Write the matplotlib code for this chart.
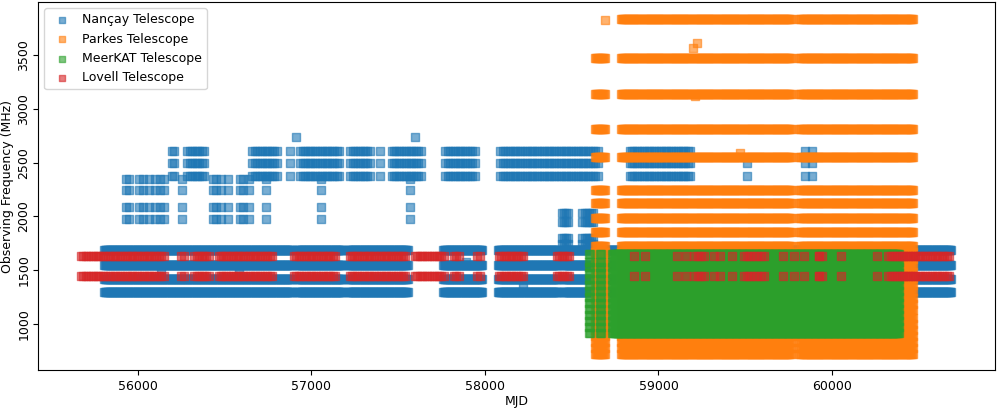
import numpy as np
import matplotlib
matplotlib.use("Agg")
import matplotlib.pyplot as plt

# ---------------- data ----------------
# Nançay: main L-band channels (MHz) and observing spans (MJD start, end, cadence in days)
nancay_main_freqs = [1690, 1550, 1420, 1295]
nancay_main_spans = [(55806, 56890, 4), (56915, 57185, 4), (57210, 57555, 4),
                     (57760, 57985, 4), (58075, 58430, 4), (58450, 60688, 4)]
# Nançay early high-frequency channels and epochs
nancay_early_freqs = [2350, 2245, 2085, 1980]
nancay_early_mjd = [55932, 55950, 56008, 56028, 56062, 56100, 56125, 56152,
                    56254, 56432, 56448, 56478, 56518, 56588, 56608, 56640,
                    56739, 57056, 57566]
# Nançay later high-frequency channels and spans
nancay_high_freqs = [2610, 2495, 2380]
nancay_high_spans = [(56195, 56210, 14), (56285, 56395, 14), (56660, 56810, 14),
                     (56876, 56876, 14), (56936, 57162, 14), (57225, 57347, 14),
                     (57398, 57405, 14), (57462, 57635, 14), (57772, 57946, 14),
                     (58089, 58661, 14), (58833, 59191, 14)]
nancay_high_single_mjd = [59843, 59883]
nancay_pair_freqs = [2495, 2380]
nancay_pair_mjd = [59508]
nancay_top_freq = 2740
nancay_top_mjd = [56913, 57598]
nancay_mid_freqs = [2035, 1945, 1800, 1740]
nancay_mid_spans = [(58445, 58490, 12), (58562, 58633, 12)]
nancay_extra_mjd = [56133, 56585, 57892, 58217]
nancay_extra_freq = [1487, 1500, 1580, 1347]

# Parkes
parkes_top_freq = 3840
parkes_top_spans = [(58782, 59770, 6), (59812, 60466, 6)]
parkes_freqs = [3470, 3140, 2810, 2555, 2250, 2120, 1985, 1857, 1725,
                1665, 1605, 1545, 1485, 1425, 1365, 1305, 1245, 1190, 1130,
                1055, 1000, 945, 890, 835, 780, 722]
parkes_spans = [(58632, 58695, 6), (58782, 59770, 6), (59812, 60466, 6)]
parkes_extra_mjd = [58690, 59199, 59224, 59209, 59470]
parkes_extra_freq = [3830, 3565, 3611, 3115, 2588]

# MeerKAT
meerkat_freqs = [920, 975, 1030, 1085, 1140, 1195, 1250, 1305, 1360,
                 1415, 1470, 1525, 1580, 1650]
meerkat_spans = [(58600, 58606, 5), (58663, 58672, 5), (58734, 60385, 5)]

# Lovell
lovell_freqs = [1635, 1450]
lovell_spans = [(55672, 56150, 14), (56250, 56275, 14), (56325, 56415, 14),
                (56465, 56785, 14), (56900, 57145, 14), (57220, 57550, 14),
                (57595, 57770, 14), (57820, 57860, 14), (57955, 57975, 14),
                (58080, 58225, 14), (58415, 58490, 14), (59205, 59270, 20),
                (59490, 59615, 20), (59925, 59960, 20), (60325, 60688, 14)]
lovell_single_mjd = [58857, 58920, 59105, 59157, 59319, 59353, 59422,
                     59719, 59782, 59840, 59927, 60052, 60260]

# ---------------- helpers ----------------
def expand(spans, freqs):
    xs, ys = [], []
    for (a, b, step) in spans:
        ep = np.arange(a, b + 1, step)
        for f in freqs:
            xs.append(ep)
            ys.append(np.full(ep.shape, f, dtype=float))
    return np.concatenate(xs), np.concatenate(ys)

def grid(mjds, freqs):
    xs, ys = np.meshgrid(np.asarray(mjds, float), np.asarray(freqs, float))
    return xs.ravel(), ys.ravel()

nx, ny = [], []
for (x, y) in [expand(nancay_main_spans, nancay_main_freqs),
               grid(nancay_early_mjd, nancay_early_freqs),
               expand(nancay_high_spans, nancay_high_freqs),
               grid(nancay_high_single_mjd, nancay_high_freqs),
               grid(nancay_pair_mjd, nancay_pair_freqs),
               grid(nancay_top_mjd, [nancay_top_freq]),
               expand(nancay_mid_spans, nancay_mid_freqs),
               (np.array(nancay_extra_mjd, float), np.array(nancay_extra_freq, float))]:
    nx.append(x); ny.append(y)
nx = np.concatenate(nx); ny = np.concatenate(ny)

px, py = [], []
for (x, y) in [expand(parkes_top_spans, [parkes_top_freq]),
               expand(parkes_spans, parkes_freqs),
               (np.array(parkes_extra_mjd, float), np.array(parkes_extra_freq, float))]:
    px.append(x); py.append(y)
px = np.concatenate(px); py = np.concatenate(py)

mx, my = expand(meerkat_spans, meerkat_freqs)

lx, ly = [], []
for (x, y) in [expand(lovell_spans, lovell_freqs),
               grid(lovell_single_mjd, lovell_freqs)]:
    lx.append(x); ly.append(y)
lx = np.concatenate(lx); ly = np.concatenate(ly)

# ---------------- plot ----------------
plt.rcParams['font.size'] = 9
fig = plt.figure(figsize=(9.97, 4.12), dpi=100)
ax = fig.add_axes([0.038, 0.102, 0.960, 0.893])

ms = 28
al = 0.6
ax.scatter(nx, ny, s=ms, marker='s', color='tab:blue', alpha=al, label='Nançay Telescope')
ax.scatter(px, py, s=ms, marker='s', color='tab:orange', alpha=al, label='Parkes Telescope')
ax.scatter(mx, my, s=ms, marker='s', color='tab:green', alpha=al, label='MeerKAT Telescope')
ax.scatter(lx, ly, s=ms, marker='s', color='tab:red', alpha=al, label='Lovell Telescope')

ax.set_xlim(55424, 60939)
ax.set_ylim(572, 3993)
ax.set_xticks([56000, 57000, 58000, 59000, 60000])
ax.set_yticks([1000, 1500, 2000, 2500, 3000, 3500])
plt.setp(ax.get_yticklabels(), rotation=90, va='center')
ax.tick_params(axis='y', pad=2)
ax.set_xlabel('MJD', labelpad=2)
ax.set_ylabel('Observing Frequency (MHz)', labelpad=2)
ax.legend(loc='upper left', markerscale=0.8, handletextpad=0.6)

fig.savefig('out.png', dpi=100)
